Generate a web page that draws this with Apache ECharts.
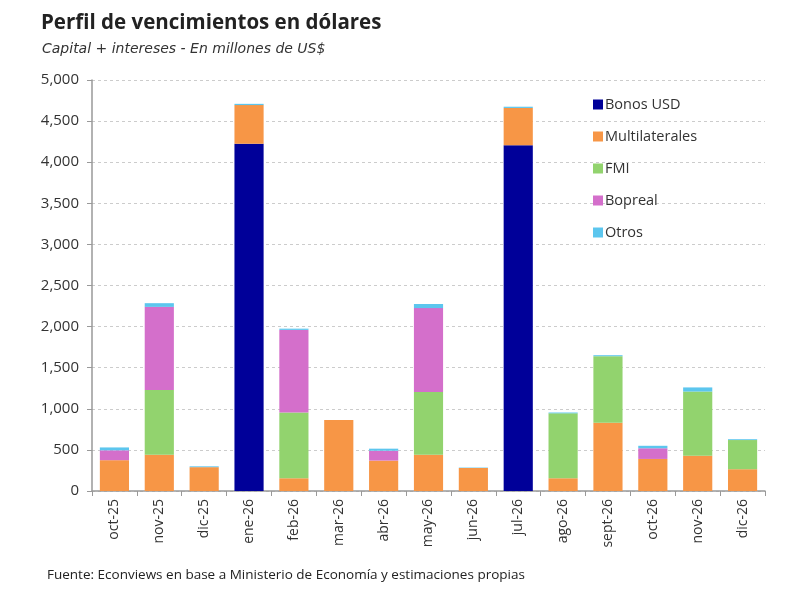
<!DOCTYPE html>
<html>
<head>
<meta charset="UTF-8">
<style>
html, body { margin: 0; padding: 0; background: #fff; }
#chart_div { width: 800px; height: 595px; }
</style>
</head>
<body>
<div id="chart_div"></div>
<script type="text/javascript" src="https://cdn.jsdelivr.net/npm/echarts@6/dist/echarts.min.js"></script>
<script type="text/javascript">
// datos (millones de US$)
var meses = ["oct-25", "nov-25", "dic-25", "ene-26", "feb-26", "mar-26", "abr-26", "may-26",
	"jun-26", "jul-26", "ago-26", "sept-26", "oct-26", "nov-26", "dic-26"];
var bonosUsd =       [0, 0, 0, 4225, 0, 0, 0, 0, 0, 4205, 0, 0, 0, 0, 0];
var multilaterales = [375, 440, 290, 470, 155, 865, 370, 440, 280, 455, 155, 830, 390, 430, 265];
var fmi =            [0, 790, 0, 0, 800, 0, 0, 765, 0, 0, 790, 810, 0, 780, 355];
var bopreal =        [120, 1010, 0, 0, 1005, 0, 120, 1020, 0, 0, 0, 0, 130, 0, 0];
var otros =          [35, 45, 10, 15, 15, 0, 25, 50, 5, 15, 10, 12, 30, 50, 10];

var nombres = ["Bonos USD", "Multilaterales", "FMI", "Bopreal", "Otros"];
var colores = ["#000099", "#F79646", "#92D36E", "#D46FCB", "#5CC6EE"];
var datos = [bonosUsd, multilaterales, fmi, bopreal, otros];

var fuente = "'Open Sans', 'DejaVu Sans', sans-serif";
var myChart = echarts.init(document.getElementById('chart_div'));

var series = [];
datos.forEach((item, index) => {
	series.push({
		name: nombres[index],
		type: 'bar',
		stack: 'total',
		barCategoryGap: '35%',
		data: item,
		itemStyle: { color: colores[index] }
	});
});

var option = {
	animation: false,
	textStyle: { fontFamily: fuente },
	title: [{
		text: "Perfil de vencimientos en dólares",
		left: 36, top: 8,
		textStyle: { fontSize: 20.5, fontWeight: 'bold', color: '#222', fontFamily: fuente }
	}, {
		text: "Capital + intereses - En millones de US$",
		left: 37, top: 37,
		textStyle: { fontSize: 14, fontStyle: 'italic', fontWeight: 'normal', color: '#333', fontFamily: "'DejaVu Sans', sans-serif" }
	}, {
		text: "Fuente: Econviews en base a Ministerio de Economía y estimaciones propias",
		left: 42, top: 563,
		textStyle: { fontSize: 13.5, fontWeight: 'normal', color: '#222', fontFamily: fuente }
	}],
	legend: {
		orient: 'vertical',
		left: 588, top: 92,
		itemWidth: 10, itemHeight: 10,
		itemGap: 17,
		icon: 'rect',
		textStyle: { fontSize: 14.5, color: '#333', padding: [0, 0, 0, -3] },
		data: nombres
	},
	grid: { left: 92, right: 35, top: 80, bottom: 104, containLabel: false },
	xAxis: {
		type: 'category',
		data: meses,
		axisLine: { lineStyle: { color: '#999', width: 1.5 } },
		axisTick: { show: true, length: 5, lineStyle: { color: '#999' } },
		axisLabel: { rotate: 90, fontSize: 14, color: '#333', margin: 8 }
	},
	yAxis: {
		type: 'value',
		min: 0, max: 5000, interval: 500,
		axisLine: { show: true, lineStyle: { color: '#999', width: 1.5 } },
		axisTick: { show: true, length: 5, lineStyle: { color: '#999' } },
		axisLabel: {
			fontSize: 15, color: '#333', margin: 13,
			formatter: function (v) { return v.toLocaleString('en-US'); }
		},
		splitLine: { lineStyle: { color: '#ccc', type: [3, 3] } }
	},
	series: series
};
myChart.setOption(option, true);
</script>
</body>
</html>
